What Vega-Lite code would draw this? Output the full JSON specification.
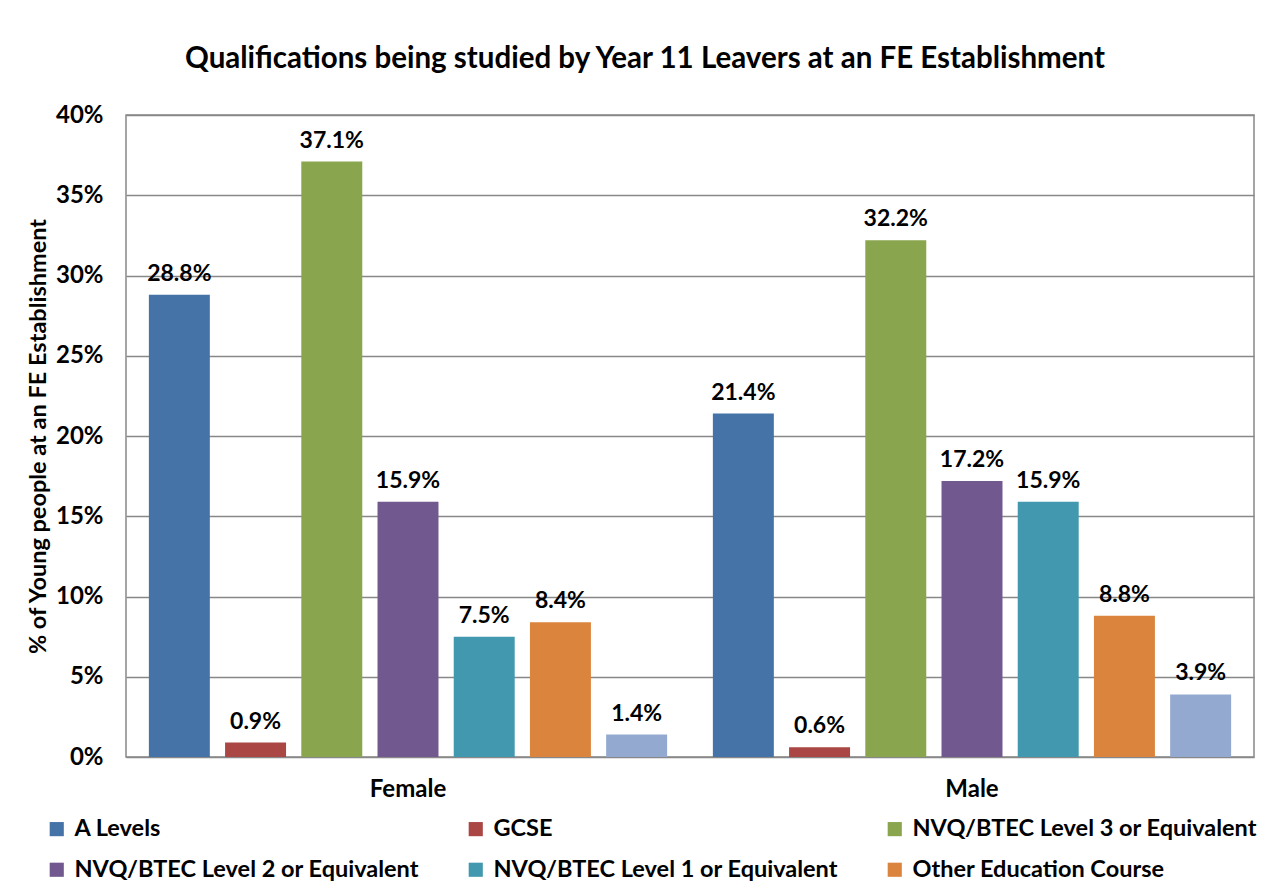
{
  "$schema": "https://vega.github.io/schema/vega-lite/v6.json",
  "autosize": "none",
  "width": 1128,
  "height": 642,
  "padding": {"left": 126, "top": 115, "right": 19, "bottom": 127},
  "background": "white",
  "title": {
    "text": "Qualifications being studied by Year 11 Leavers at an FE Establishment",
    "font": "Lato",
    "fontSize": 29.5,
    "fontWeight": "bold",
    "color": "#000000",
    "anchor": "middle",
    "dx": -45,
    "offset": 29
  },
  "config": {
    "view": {"stroke": "#888888", "strokeWidth": 1.5},
    "font": "Lato"
  },
  "data": {
    "values": [
      {"gender": "Female", "qual": "A Levels", "value": 0.288},
      {"gender": "Female", "qual": "GCSE", "value": 0.009},
      {"gender": "Female", "qual": "NVQ/BTEC Level 3 or Equivalent", "value": 0.371},
      {"gender": "Female", "qual": "NVQ/BTEC Level 2 or Equivalent", "value": 0.159},
      {"gender": "Female", "qual": "NVQ/BTEC Level 1 or Equivalent", "value": 0.075},
      {"gender": "Female", "qual": "Other Education Course", "value": 0.084},
      {"gender": "Female", "qual": "Other", "value": 0.014},
      {"gender": "Male", "qual": "A Levels", "value": 0.214},
      {"gender": "Male", "qual": "GCSE", "value": 0.006},
      {"gender": "Male", "qual": "NVQ/BTEC Level 3 or Equivalent", "value": 0.322},
      {"gender": "Male", "qual": "NVQ/BTEC Level 2 or Equivalent", "value": 0.172},
      {"gender": "Male", "qual": "NVQ/BTEC Level 1 or Equivalent", "value": 0.159},
      {"gender": "Male", "qual": "Other Education Course", "value": 0.088},
      {"gender": "Male", "qual": "Other", "value": 0.039}
    ]
  },
  "encoding": {
    "x": {
      "field": "gender",
      "type": "nominal",
      "title": null,
      "scale": {"paddingInner": 0, "paddingOuter": 0},
      "axis": {
        "labelAngle": 0,
        "labelFont": "Lato",
        "labelFontSize": 24,
        "labelFontWeight": "bold",
        "labelColor": "#000000",
        "labelPadding": 20,
        "ticks": false,
        "domain": false
      }
    },
    "xOffset": {
      "field": "qual",
      "type": "nominal",
      "scale": {
        "domain": ["A Levels", "GCSE", "NVQ/BTEC Level 3 or Equivalent", "NVQ/BTEC Level 2 or Equivalent", "NVQ/BTEC Level 1 or Equivalent", "Other Education Course", "Other"],
        "paddingInner": 0.2,
        "paddingOuter": 0.3
      }
    },
    "y": {
      "field": "value",
      "type": "quantitative",
      "title": "% of Young people at an FE Establishment",
      "scale": {"domain": [0, 0.4], "nice": false},
      "axis": {
        "format": ".0%",
        "values": [0, 0.05, 0.1, 0.15, 0.2, 0.25, 0.3, 0.35, 0.4],
        "grid": true,
        "gridColor": "#888888",
        "gridWidth": 1.5,
        "ticks": false,
        "domain": false,
        "labelFont": "Lato",
        "labelFontSize": 24,
        "labelFontWeight": "bold",
        "labelColor": "#000000",
        "labelPadding": 23,
        "titleFont": "Lato",
        "titleFontSize": 23.5,
        "titleFontWeight": "bold",
        "titleColor": "#000000",
        "titlePadding": 5
      }
    }
  },
  "layer": [
    {
      "mark": {"type": "bar"},
      "encoding": {
        "color": {
          "field": "qual",
          "type": "nominal",
          "title": null,
          "scale": {
            "domain": ["A Levels", "GCSE", "NVQ/BTEC Level 3 or Equivalent", "NVQ/BTEC Level 2 or Equivalent", "NVQ/BTEC Level 1 or Equivalent", "Other Education Course", "Other"],
            "range": ["#4572A7", "#AA4643", "#89A54E", "#71588F", "#4198AF", "#DB843D", "#93A9CF"]
          },
          "legend": {
            "values": ["A Levels", "GCSE", "NVQ/BTEC Level 3 or Equivalent", "NVQ/BTEC Level 2 or Equivalent", "NVQ/BTEC Level 1 or Equivalent", "Other Education Course"],
            "orient": "none",
            "legendX": -81,
            "legendY": 702,
            "direction": "horizontal",
            "columns": 3,
            "columnPadding": 45,
            "rowPadding": 16,
            "symbolType": "square",
            "symbolSize": 200,
            "symbolStrokeWidth": 0,
            "symbolOpacity": 1,
            "labelFont": "Lato",
            "labelFontSize": 23.5,
            "labelFontWeight": "bold",
            "labelColor": "#000000",
            "labelLimit": 500,
            "labelOffset": 6
          }
        }
      }
    },
    {
      "mark": {"type": "text", "baseline": "bottom", "dy": -9, "font": "Lato", "fontSize": 23, "fontWeight": "bold", "color": "#000000"},
      "encoding": {
        "text": {"field": "value", "type": "quantitative", "format": ".1%"}
      }
    }
  ]
}
